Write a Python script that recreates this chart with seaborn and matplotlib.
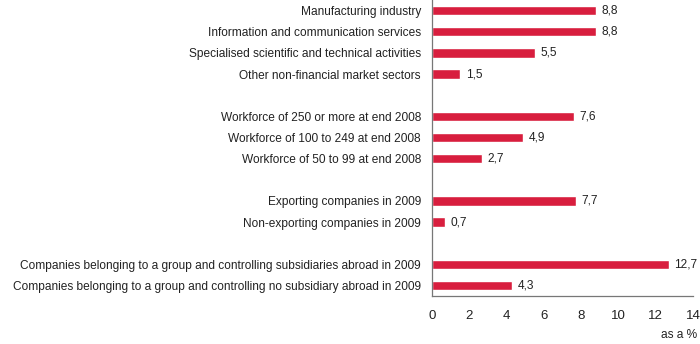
import matplotlib
matplotlib.use("Agg")
import matplotlib.pyplot as plt
import seaborn as sns
import pandas as pd

categories = [
    "Manufacturing industry",
    "Information and communication services",
    "Specialised scientific and technical activities",
    "Other non-financial market sectors",
    "Workforce of 250 or more at end 2008",
    "Workforce of 100 to 249 at end 2008",
    "Workforce of 50 to 99 at end 2008",
    "Exporting companies in 2009",
    "Non-exporting companies in 2009",
    "Companies belonging to a group and controlling subsidiaries abroad in 2009",
    "Companies belonging to a group and controlling no subsidiary abroad in 2009",
]
values = [8.8, 8.8, 5.5, 1.5, 7.6, 4.9, 2.7, 7.7, 0.7, 12.7, 4.3]
positions = [0, 1, 2, 3, 5, 6, 7, 9, 10, 12, 13]
xticks = [0, 2, 4, 6, 8, 10, 12, 14]
xlabel = "as a %"

sns.set_theme(style="white")
plt.rcParams["font.family"] = ["Liberation Sans", "DejaVu Sans"]

df = pd.DataFrame({"cat": categories, "val": values, "pos": positions})

fig = plt.figure(figsize=(7, 3.44), dpi=100)
ax = fig.add_axes([432 / 700, 1 - 296 / 344, (693 - 432) / 700, 296 / 344])

sns.barplot(data=df, x="val", y="pos", orient="h", native_scale=True,
            color="#d81e3e", saturation=1, width=0.44, ax=ax)

ax.set_ylim(13.5, -0.5)
ax.set_xlim(0, 14)
ax.set_yticks(positions)
ax.set_yticklabels(categories, fontsize=8.6, color="#222222")
ax.set_xticks(xticks)
ax.set_xticklabels([str(t) for t in xticks], fontsize=9.5, color="#222222")
ax.tick_params(axis="y", length=0, pad=8)
ax.tick_params(axis="x", direction="in", length=5, width=0.8, color="#777777", pad=10)
ax.set_ylabel("")
ax.set_xlabel("")

for s in ["top", "right"]:
    ax.spines[s].set_visible(False)
for s in ["left", "bottom"]:
    ax.spines[s].set_color("#777777")
    ax.spines[s].set_linewidth(0.9)

for p, v in zip(positions, values):
    ax.text(v + 0.3, p, f"{v:.1f}".replace(".", ","), va="center", ha="left",
            fontsize=8.6, color="#222222")

fig.text(697 / 700, 1 - 335 / 344, xlabel, ha="right", va="center",
         fontsize=8.6, color="#222222")

fig.savefig("out.png", dpi=100)
